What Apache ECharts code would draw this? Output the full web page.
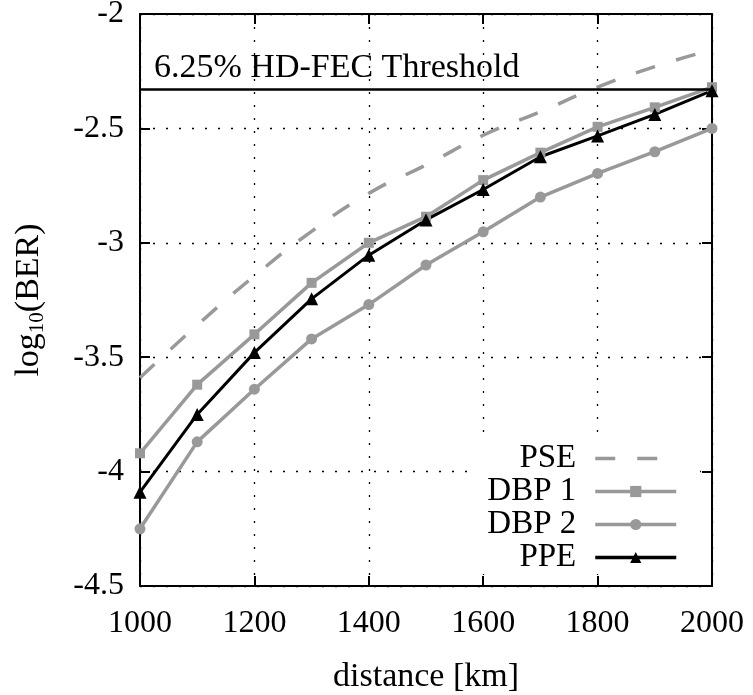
<!DOCTYPE html>
<html lang="en">
<head>
    <meta http-equiv="Content-Type" content="text/html; charset=UTF-8">
    <title>log10(BER) vs distance</title>
    <script type="text/javascript" src="https://cdn.jsdelivr.net/npm/echarts@6/dist/echarts.min.js"></script>
</head>
<body style="margin:0;width:753px;height:695px;background:#fff">
<div id="main" style="width:753px;height:695px"></div>
<script type="text/javascript">
    // distances in km
    var distance = [1000, 1100, 1200, 1300, 1400, 1500, 1600, 1700, 1800, 1900, 2000];
    // log10(BER) per scheme
    var pse  = [-3.59, -3.36, -3.145, -2.95, -2.784, -2.66, -2.53, -2.427, -2.32, -2.23, -2.157];
    var dbp1 = [-3.92, -3.62, -3.40, -3.175, -3.00, -2.886, -2.726, -2.606, -2.493, -2.408, -2.32];
    var dbp2 = [-4.25, -3.87, -3.64, -3.42, -3.27, -3.097, -2.952, -2.80, -2.697, -2.602, -2.50];
    var ppe  = [-4.09, -3.75, -3.48, -3.245, -3.054, -2.90, -2.767, -2.624, -2.533, -2.439, -2.335];
    var threshold = -2.325;
    var thresholdLabel = '6.25% HD-FEC Threshold';

    var FONT = '"Liberation Serif", "DejaVu Serif", serif';
    var GRAY = '#999999';
    var CLEAR = 'rgba(0,0,0,0)';

    function pairs(ys) {
        return distance.map(function (x, i) { return [x, ys[i]]; });
    }

    var myChart = echarts.init(document.getElementById('main'));

    var dotted = { show: true, lineStyle: { color: '#000', width: 1.3, type: [2, 11] } };
    var frame = { show: true, onZero: false, lineStyle: { color: '#000', width: 2 } };
    var tickIn = { show: true, inside: true, length: 10, lineStyle: { color: '#000', width: 2 } };

    myChart.setOption({
        animation: false,
        grid: { left: 140, right: 41, top: 14, bottom: 109, outerBoundsMode: 'none' },
        legend: {
            orient: 'vertical',
            right: 53,
            top: 435,
            align: 'right',
            backgroundColor: '#fff',
            padding: [7, 22, 0, 10],
            itemGap: 0,
            itemWidth: 81,
            itemHeight: 14,
            lineStyle: { width: 3.5 },
            textStyle: {
                fontFamily: FONT, fontSize: 33, color: '#000',
                width: 104, align: 'right', padding: [0, 14, 0, 0]
            },
            data: [
                // the PSE line has no marker, so hide the legend's stand-in dot
                { name: 'PSE', itemStyle: { color: CLEAR, borderColor: CLEAR, borderWidth: 0 } },
                'DBP 1', 'DBP 2', 'PPE'
            ]
        },
        xAxis: [{
            type: 'value', min: 1000, max: 2000, interval: 200,
            name: 'distance [km]', nameLocation: 'middle', nameGap: 74,
            nameTextStyle: { fontFamily: FONT, fontSize: 34, color: '#000' },
            axisLine: frame, axisTick: tickIn, splitLine: dotted,
            axisLabel: {
                fontFamily: FONT, fontSize: 32, color: '#000', margin: 22,
                formatter: function (v) { return String(v); }
            }
        }, {
            type: 'value', position: 'top', min: 1000, max: 2000, interval: 200,
            axisLine: frame, axisTick: tickIn, splitLine: { show: false },
            axisLabel: { show: false }
        }],
        yAxis: [{
            type: 'value', min: -4.5, max: -2, interval: 0.5,
            name: 'log{sub|10}(BER)', nameLocation: 'middle', nameGap: 92, nameRotate: 90,
            nameTextStyle: {
                fontFamily: FONT, fontSize: 34, color: '#000',
                rich: { sub: { fontFamily: FONT, fontSize: 21, color: '#000', padding: [16, 0, 0, 0] } }
            },
            axisLine: frame, axisTick: tickIn, splitLine: dotted,
            axisLabel: { fontFamily: FONT, fontSize: 32, color: '#000', margin: 16 }
        }, {
            type: 'value', position: 'right', min: -4.5, max: -2, interval: 0.5,
            axisLine: frame, axisTick: tickIn, splitLine: { show: false },
            axisLabel: { show: false }
        }],
        series: [{
            name: 'PSE',
            type: 'line',
            smooth: true,
            showSymbol: false,
            symbol: 'none',
            data: pairs(pse),
            lineStyle: { color: GRAY, width: 3.5, type: [20, 22] },
            itemStyle: { color: GRAY },
            markLine: {
                silent: true,
                symbol: 'none',
                lineStyle: { color: '#000', width: 2.5, type: 'solid' },
                label: {
                    position: 'insideStartTop', distance: [14, 4],
                    formatter: thresholdLabel,
                    fontFamily: FONT, fontSize: 34, color: '#000'
                },
                data: [{ yAxis: threshold }]
            }
        }, {
            name: 'DBP 1',
            type: 'line',
            symbol: 'rect',
            symbolSize: 10,
            data: pairs(dbp1),
            lineStyle: { color: GRAY, width: 3.5 },
            itemStyle: { color: GRAY }
        }, {
            name: 'DBP 2',
            type: 'line',
            symbol: 'circle',
            symbolSize: 11,
            data: pairs(dbp2),
            lineStyle: { color: GRAY, width: 3.5 },
            itemStyle: { color: GRAY }
        }, {
            name: 'PPE',
            type: 'line',
            symbol: 'triangle',
            symbolSize: 13,
            data: pairs(ppe),
            lineStyle: { color: '#000', width: 3 },
            itemStyle: { color: '#000' }
        }]
    });
</script>
</body>
</html>
